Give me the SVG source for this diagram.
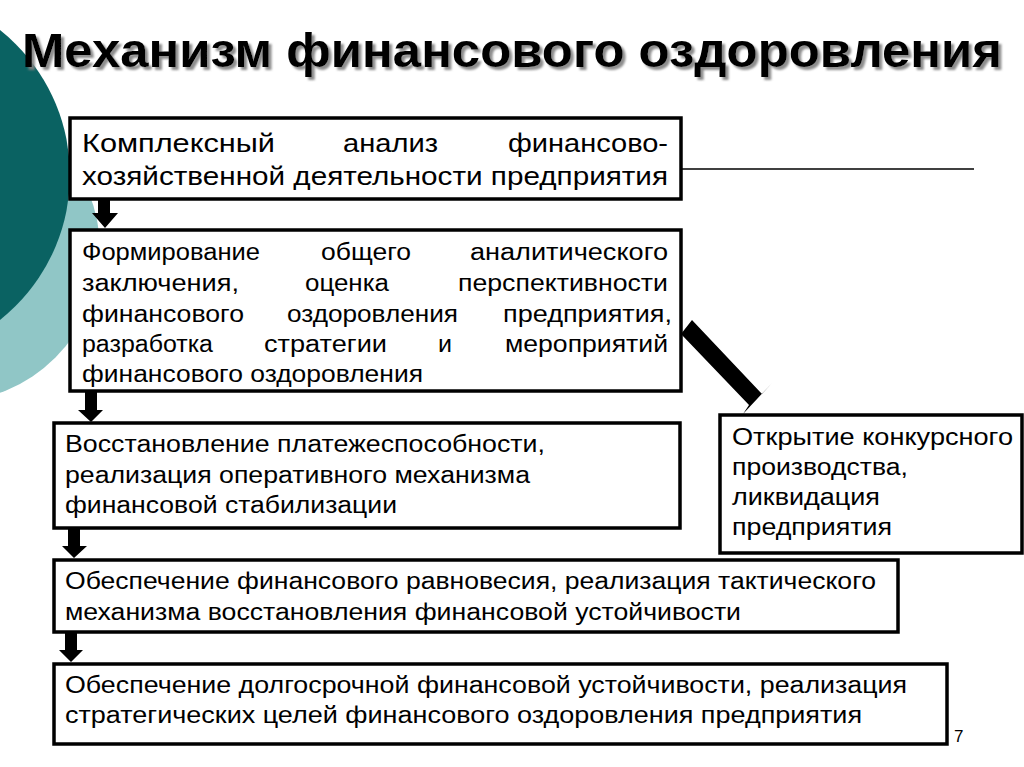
<svg xmlns="http://www.w3.org/2000/svg" width="1024" height="767" viewBox="0 0 1024 767">
<defs>
<filter id="sh" x="-5%" y="-20%" width="110%" height="150%">
<feDropShadow dx="3" dy="3" stdDeviation="1.2" flood-color="#808080" flood-opacity="0.9"/>
</filter>
</defs>
<style>
.box{fill:#fff;stroke:#000;stroke-width:3.5}
.t{font-family:"Liberation Sans","Noto Sans",sans-serif;fill:#000}
.t1{font-size:25px}
.t2{font-size:23px}
.title{font-family:"Liberation Sans",Arial,sans-serif;font-weight:bold;font-size:48px}
</style>
<rect width="1024" height="767" fill="#fff"/>
<circle cx="-52" cy="250" r="152" fill="#90c6c6"/>
<circle cx="-115" cy="175" r="185" fill="#0a6262"/>
<text class="title" x="22" y="67" fill="#000" filter="url(#sh)" textLength="980" lengthAdjust="spacingAndGlyphs">Механизм финансового оздоровления</text>
<g id="connectors">
<line x1="681" y1="169" x2="974" y2="169" stroke="#000" stroke-width="1.5"/>
<polygon points="98,199 110,199 110,213 118,213 105,228 92,213 98,213"/>
<polygon points="85,392 97,392 97,410 103,410 91,422 78,410 85,410"/>
<polygon points="68,528 80,528 80,546 87,546 74,558 62,546 68,546"/>
<polygon points="65,632 77,632 77,650 83,650 71,662 59,650 65,650"/>
<polygon points="692,320 762,394 772,383 743,414 749,405 681,334"/>
</g>
<g id="n1">
<rect class="box" x="70" y="118" width="611" height="81"/>
<text class="t t1" x="82" y="152" textLength="193" lengthAdjust="spacingAndGlyphs">Комплексный</text>
<text class="t t1" x="343" y="152" textLength="95" lengthAdjust="spacingAndGlyphs">анализ</text>
<text class="t t1" x="508" y="152" textLength="160" lengthAdjust="spacingAndGlyphs">финансово-</text>
<text class="t t1" x="82" y="185" textLength="586" lengthAdjust="spacingAndGlyphs">хозяйственной деятельности предприятия</text>
</g>
<g id="n2">
<rect class="box" x="70" y="230" width="611" height="161"/>
<text class="t t2" x="82" y="260" textLength="178" lengthAdjust="spacingAndGlyphs">Формирование</text>
<text class="t t2" x="321" y="260" textLength="90" lengthAdjust="spacingAndGlyphs">общего</text>
<text class="t t2" x="470" y="260" textLength="198" lengthAdjust="spacingAndGlyphs">аналитического</text>
<text class="t t2" x="82" y="291" textLength="157" lengthAdjust="spacingAndGlyphs">заключения,</text>
<text class="t t2" x="305" y="291" textLength="84" lengthAdjust="spacingAndGlyphs">оценка</text>
<text class="t t2" x="458" y="291" textLength="210" lengthAdjust="spacingAndGlyphs">перспективности</text>
<text class="t t2" x="82" y="322" textLength="162" lengthAdjust="spacingAndGlyphs">финансового</text>
<text class="t t2" x="287" y="322" textLength="171" lengthAdjust="spacingAndGlyphs">оздоровления</text>
<text class="t t2" x="503" y="322" textLength="169" lengthAdjust="spacingAndGlyphs">предприятия,</text>
<text class="t t2" x="82" y="352" textLength="131" lengthAdjust="spacingAndGlyphs">разработка</text>
<text class="t t2" x="264" y="352" textLength="123" lengthAdjust="spacingAndGlyphs">стратегии</text>
<text class="t t2" x="438" y="352" textLength="14" lengthAdjust="spacingAndGlyphs">и</text>
<text class="t t2" x="505" y="352" textLength="163" lengthAdjust="spacingAndGlyphs">мероприятий</text>
<text class="t t2" x="82" y="382" textLength="341" lengthAdjust="spacingAndGlyphs">финансового оздоровления</text>
</g>
<g id="n3">
<rect class="box" x="54" y="423" width="626" height="105"/>
<text class="t t2" x="65" y="452" textLength="480" lengthAdjust="spacingAndGlyphs">Восстановление платежеспособности,</text>
<text class="t t2" x="65" y="483" textLength="465" lengthAdjust="spacingAndGlyphs">реализация оперативного механизма</text>
<text class="t t2" x="65" y="513" textLength="332" lengthAdjust="spacingAndGlyphs">финансовой стабилизации</text>
</g>
<g id="n4">
<rect class="box" x="720" y="415" width="302" height="138"/>
<text class="t t2" x="732" y="445" textLength="281" lengthAdjust="spacingAndGlyphs">Открытие конкурсного</text>
<text class="t t2" x="732" y="475" textLength="176" lengthAdjust="spacingAndGlyphs">производства,</text>
<text class="t t2" x="732" y="505" textLength="148" lengthAdjust="spacingAndGlyphs">ликвидация</text>
<text class="t t2" x="732" y="535" textLength="160" lengthAdjust="spacingAndGlyphs">предприятия</text>
</g>
<g id="n5">
<rect class="box" x="54" y="560" width="844" height="72"/>
<text class="t t2" x="65" y="589" textLength="811" lengthAdjust="spacingAndGlyphs">Обеспечение финансового равновесия, реализация тактического</text>
<text class="t t2" x="65" y="620" textLength="676" lengthAdjust="spacingAndGlyphs">механизма восстановления финансовой устойчивости</text>
</g>
<g id="n6">
<rect class="box" x="54" y="664" width="893" height="80"/>
<text class="t t2" x="65" y="693" textLength="842" lengthAdjust="spacingAndGlyphs">Обеспечение долгосрочной финансовой устойчивости, реализация</text>
<text class="t t2" x="65" y="723" textLength="797" lengthAdjust="spacingAndGlyphs">стратегических целей финансового оздоровления предприятия</text>
</g>
<text class="t" x="954" y="742" font-size="17" fill="#555">7</text>
</svg>
